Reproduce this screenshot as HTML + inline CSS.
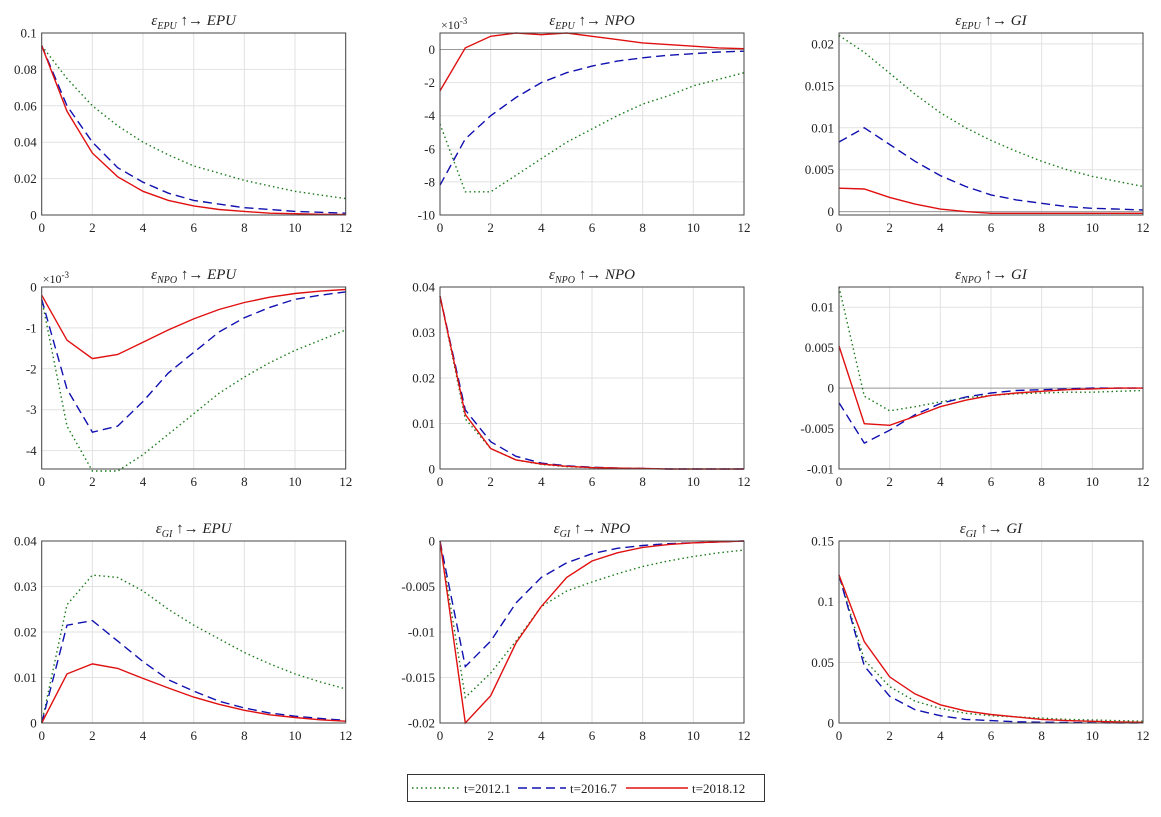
<!DOCTYPE html>
<html><head><meta charset="utf-8"><style>
body{margin:0;background:#fff;width:1161px;height:812px;overflow:hidden}
svg text{font-family:"Liberation Serif",serif;fill:#222}
</style></head><body>
<svg id="chart" width="1161" height="812" xmlns="http://www.w3.org/2000/svg"></svg>
<script>
const horizons=[0,1,2,3,4,5,6,7,8,9,10,11,12];
const titles=[["EPU","EPU"],["EPU","NPO"],["EPU","GI"],["NPO","EPU"],["NPO","NPO"],["NPO","GI"],["GI","EPU"],["GI","NPO"],["GI","GI"]];
const yRanges=[[0,0.1],[-10,1],[-0.0004,0.0213],[-4.45,0],[0,0.04],[-0.01,0.0125],[0,0.04],[-0.02,0],[0,0.15]];
const yTicks=[[0,0.02,0.04,0.06,0.08,0.1],[-10,-8,-6,-4,-2,0],[0,0.005,0.01,0.015,0.02],[-4,-3,-2,-1,0],[0,0.01,0.02,0.03,0.04],[-0.01,-0.005,0,0.005,0.01],[0,0.01,0.02,0.03,0.04],[-0.02,-0.015,-0.01,-0.005,0],[0,0.05,0.1,0.15]];
const sciPanels=[1,3];
const zeroLinePanels=[1,2,5];
const s2012=[
[0.093,0.075,0.060,0.049,0.040,0.033,0.027,0.023,0.019,0.016,0.013,0.011,0.009],
[-4.5,-8.6,-8.6,-7.6,-6.6,-5.6,-4.8,-4.0,-3.3,-2.8,-2.2,-1.8,-1.4],
[0.021,0.019,0.0165,0.014,0.0118,0.010,0.0085,0.0072,0.006,0.005,0.0042,0.0036,0.003],
[-0.3,-3.4,-4.5,-4.5,-4.1,-3.6,-3.1,-2.6,-2.2,-1.85,-1.55,-1.3,-1.05],
[0.038,0.011,0.0045,0.002,0.001,0.0005,0.0003,0.0002,0.0001,0,0,0,0],
[0.0125,-0.001,-0.0028,-0.0023,-0.0017,-0.0012,-0.0009,-0.0007,-0.0006,-0.0005,-0.0005,-0.0004,-0.0003],
[0,0.026,0.0325,0.032,0.029,0.025,0.0215,0.0185,0.0155,0.013,0.0108,0.009,0.0075],
[0,-0.0172,-0.0145,-0.011,-0.0072,-0.0055,-0.0045,-0.0036,-0.0028,-0.0022,-0.0017,-0.0013,-0.001],
[0.122,0.052,0.03,0.018,0.012,0.008,0.006,0.005,0.004,0.003,0.0025,0.002,0.0015]];
const s2016=[
[0.093,0.060,0.040,0.026,0.018,0.012,0.008,0.006,0.004,0.003,0.002,0.0015,0.001],
[-8.2,-5.4,-4.0,-2.9,-2.0,-1.4,-1.0,-0.7,-0.5,-0.35,-0.25,-0.15,-0.1],
[0.0083,0.0100,0.0080,0.0060,0.0043,0.0030,0.0020,0.0014,0.0010,0.0006,0.0004,0.0003,0.0002],
[-0.3,-2.5,-3.55,-3.4,-2.8,-2.1,-1.6,-1.1,-0.75,-0.5,-0.3,-0.2,-0.12],
[0.038,0.013,0.006,0.0028,0.0013,0.0007,0.0004,0.0002,0.0001,0,0,0,0],
[-0.0018,-0.0068,-0.0052,-0.0033,-0.0019,-0.0011,-0.0006,-0.0003,-0.0002,-0.0001,0,0,0],
[0,0.0215,0.0225,0.018,0.0135,0.0095,0.007,0.0048,0.0033,0.0022,0.0015,0.001,0.0006],
[0,-0.0138,-0.011,-0.0068,-0.004,-0.0024,-0.0014,-0.0008,-0.0005,-0.0003,-0.0002,-0.0001,0],
[0.122,0.047,0.022,0.011,0.006,0.003,0.002,0.001,0.0007,0.0004,0.0002,0.0001,0.0001]];
const s2018=[
[0.093,0.057,0.034,0.021,0.013,0.008,0.005,0.003,0.002,0.001,0.0007,0.0004,0.0002],
[-2.5,0.1,0.8,1.0,0.9,1.0,0.8,0.6,0.4,0.3,0.2,0.1,0.05],
[0.0028,0.0027,0.0017,0.0009,0.0003,0.0,-0.0002,-0.0002,-0.0002,-0.0002,-0.0002,-0.0002,-0.0002],
[-0.2,-1.3,-1.75,-1.65,-1.35,-1.05,-0.78,-0.55,-0.38,-0.25,-0.16,-0.1,-0.06],
[0.038,0.012,0.0045,0.002,0.0011,0.0006,0.0003,0.0002,0.0001,0,0,0,0],
[0.0052,-0.0044,-0.0046,-0.0035,-0.0023,-0.0015,-0.0009,-0.0006,-0.0004,-0.0002,-0.0001,0,0],
[0,0.0108,0.013,0.012,0.0098,0.0077,0.0057,0.0041,0.0028,0.0018,0.0012,0.0007,0.0004],
[0,-0.020,-0.017,-0.0112,-0.0072,-0.004,-0.0022,-0.0013,-0.0007,-0.0004,-0.0002,-0.0001,0],
[0.122,0.067,0.038,0.024,0.015,0.010,0.007,0.005,0.003,0.002,0.0014,0.0009,0.0006]];
const seriesNames=["t=2012.1","t=2016.7","t=2018.12"];

const NS="http://www.w3.org/2000/svg";
const svg=document.getElementById("chart");
function el(tag,attrs,parent){const e=document.createElementNS(NS,tag);for(const k in attrs)e.setAttribute(k,attrs[k]);(parent||svg).appendChild(e);return e;}
const colX=[41.7,440,839], rowY=[33,287,541], W=304, H=182;
const styles=[{stroke:"#1a7a1a","stroke-dasharray":"1.5,3"},{stroke:"#1010b0","stroke-dasharray":"9,5"},{stroke:"#e01010","stroke-dasharray":""}];
function fmt(v){if(Math.abs(v)<1e-12)return "0";return String(+v.toPrecision(6));}
for(let p=0;p<9;p++){
  const x0=colX[p%3], y0=rowY[Math.floor(p/3)];
  const [ymin,ymax]=yRanges[p];
  const sx=h=>x0+h/12*W, sy=v=>y0+H-(v-ymin)/(ymax-ymin)*H;
  const g=el("g",{});
  
  
  for(let h=0;h<=12;h+=2){el("line",{x1:sx(h),x2:sx(h),y1:y0,y2:y0+H,stroke:"#e2e2e2","stroke-width":1},g);
    const t=el("text",{x:sx(h),y:y0+H+17,"text-anchor":"middle","font-size":13},g);t.textContent=h;
    }
  yTicks[p].forEach(v=>{const y=sy(v);
    el("line",{x1:x0,x2:x0+W,y1:y,y2:y,stroke:"#e2e2e2","stroke-width":1},g);
    const t=el("text",{x:x0-5,y:y+4.5,"text-anchor":"end","font-size":13},g);t.textContent=fmt(v);
    });
  if(zeroLinePanels.includes(p)){el("line",{x1:x0,x2:x0+W,y1:sy(0),y2:sy(0),stroke:"#999","stroke-width":1},g);}
  if(sciPanels.includes(p)){const t=el("text",{x:x0+1,y:y0-4,"font-size":12},g);t.innerHTML='×10<tspan dy="-5" font-size="9">-3</tspan>';
    }
  [s2012,s2016,s2018].forEach((S,i)=>{
    const d=horizons.map((h,k)=>(k?"L":"M")+sx(h).toFixed(1)+","+sy(S[p][k]).toFixed(1)).join("");
    const a={d:d,fill:"none","stroke-width":1.4,stroke:styles[i].stroke};
    if(styles[i]["stroke-dasharray"])a["stroke-dasharray"]=styles[i]["stroke-dasharray"];
    const path=el("path",a,g);
    
    
  });
  const box=el("rect",{x:x0,y:y0,width:W,height:H,fill:"none",stroke:"#444","stroke-width":1},g);
  
  const tt=el("text",{x:x0+W/2,y:y0-8,"text-anchor":"middle","font-size":15,"font-style":"italic"},g);
  tt.innerHTML='ε<tspan dy="4" font-size="10">'+titles[p][0]+'</tspan><tspan dy="-4" font-style="normal"> ↑→ </tspan>'+titles[p][1];
  
}
const lg=el("g",{});


el("rect",{x:407.5,y:774.5,width:357,height:27,fill:"#fff",stroke:"#333","stroke-width":1},lg);
const lx=[[412,460,464],[518,566,570],[626,688,692]];
seriesNames.forEach((n,i)=>{
  const a={x1:lx[i][0],x2:lx[i][1],y1:788,y2:788,"stroke-width":1.4,stroke:styles[i].stroke};
  if(styles[i]["stroke-dasharray"])a["stroke-dasharray"]=styles[i]["stroke-dasharray"];
  const l=el("line",a,lg);
  
  const t=el("text",{x:lx[i][2],y:793,"font-size":13},lg);t.textContent=n;
  
});
</script>
</body></html>
